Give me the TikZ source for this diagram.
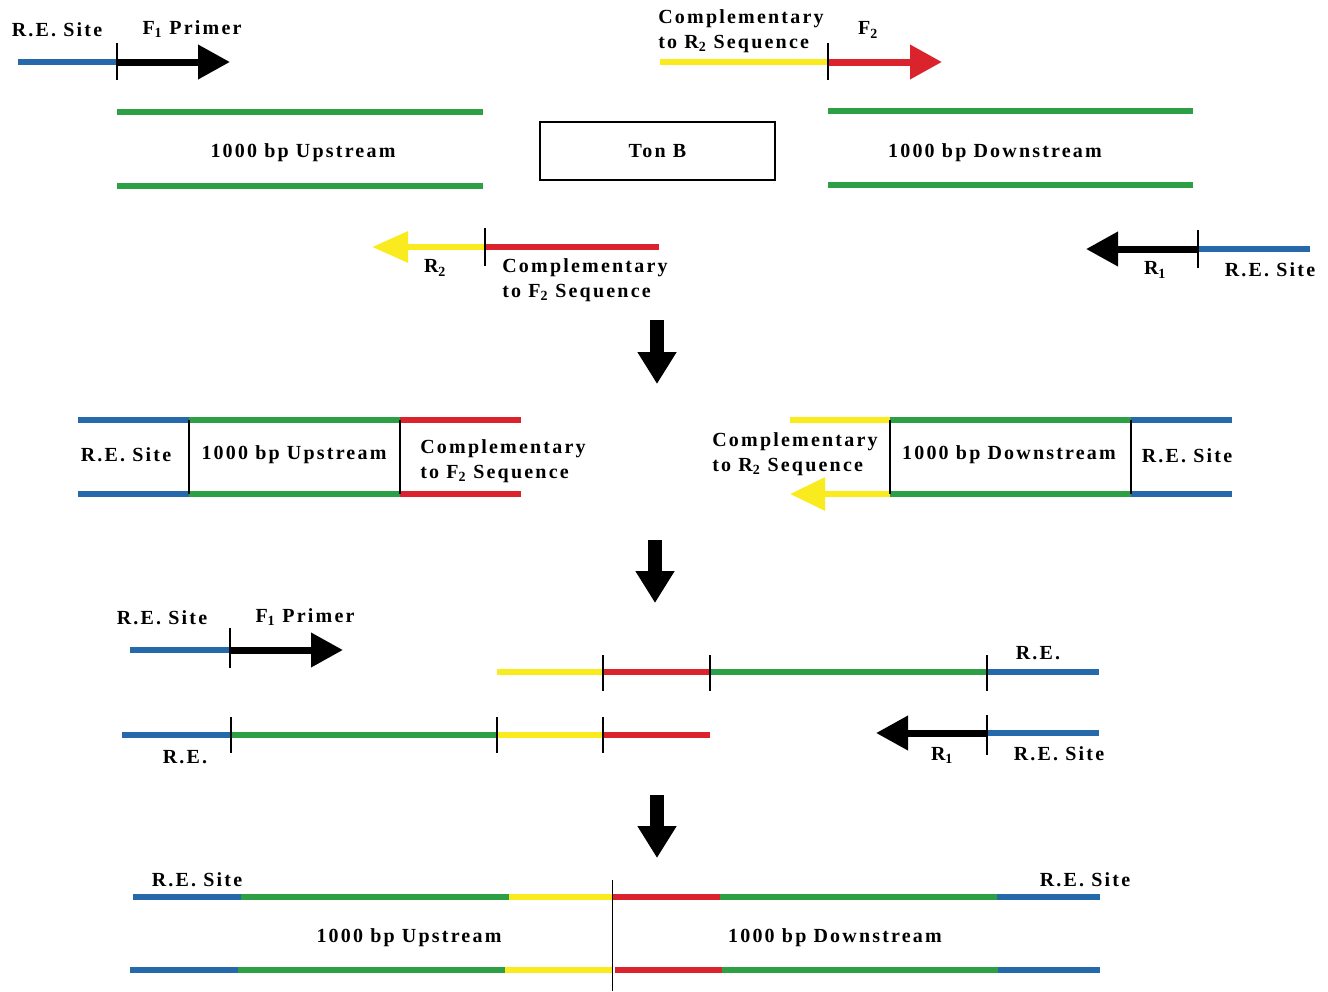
\documentclass[tikz,border=0pt]{standalone}
\usepackage{fontspec}
\usepackage{tikz}
\usetikzlibrary{arrows.meta}
\newfontfamily\lblfont{Liberation Serif}[LetterSpace=11]
\definecolor{reblue}{RGB}{38,105,170}
\definecolor{dnagreen}{RGB}{45,160,70}
\definecolor{dnared}{RGB}{218,35,45}
\definecolor{dnayellow}{RGB}{250,235,30}

\begin{document}
\begin{tikzpicture}[x=1pt,y=-1pt,
	dna/.style={line width=6pt},
	tick/.style={line width=1.4pt,black},
	lbl/.style={font=\lblfont\bfseries\fontsize{20}{25}\selectfont,inner sep=0pt},
	twolbl/.style={lbl,align=left},
	primer/.style={line width=7pt,-{Triangle[length=32pt,width=33pt]}},
	downarrow/.style={line width=14pt,-{Triangle[length=32pt,width=37pt]}}]
		\useasboundingbox (0,0) rectangle (1328,991);
		% step 1: primers and template
		\draw[dna,reblue] (18,62) -- (117,62);
		\draw[primer] (117,62) -- (230,62);
		\draw[tick] (117,43) -- (117,80);
		\node[lbl] (site1) at (57,30) {R.E. Site};
		\node[lbl] (fone) at (192,29) {F\textsubscript{1} Primer};
		\draw[dna,dnayellow] (660,62) -- (828,62);
		\draw[primer,dnared] (828,62) -- (942,62);
		\draw[tick] (828,43) -- (828,80);
		\node[twolbl] (comprtwo) at (741,31) {Complementary\\to R\textsubscript{2} Sequence};
		\node[lbl] (ftwo) at (868,30) {F\textsubscript{2}};
		\foreach \y in {112,186} {
			\draw[dna,dnagreen] (117,\y) -- (483,\y);
			\draw[dna,dnagreen] (828,\y-1) -- (1193,\y-1);
		}
		\node[lbl] (up) at (303,153) {1000 bp Upstream};
		\node[lbl] (down) at (995,153) {1000 bp Downstream};
		\node[lbl,draw,line width=2.8pt,minimum width=235pt,minimum height=58pt] (tonb) at (657.5,151) {Ton B};
		\draw[dna,dnared] (485,247) -- (659,247);
		\draw[dna,dnayellow,-{Triangle[length=36pt,width=30pt]}] (485,247) -- (372,247);
		\draw[tick] (485,228) -- (485,266);
		\node[lbl] (rtwo) at (435,268) {R\textsubscript{2}};
		\node[twolbl] (compftwo) at (585,280) {Complementary\\to F\textsubscript{2} Sequence};
		\draw[dna,reblue] (1198,249) -- (1310,249);
		\draw[primer] (1198,249) -- (1086,249);
		\draw[tick] (1198,230) -- (1198,268);
		\node[lbl] (rone) at (1155,270) {R\textsubscript{1}};
		\node[lbl] (site2) at (1270,270) {R.E. Site};
		\draw[downarrow] (657,320) -- (657,384);
		% step 2: two PCR products
		\foreach \y in {420,494} {
			\draw[dna,reblue] (78,\y) -- (189,\y);
			\draw[dna,dnagreen] (189,\y) -- (400,\y);
			\draw[dna,dnared] (400,\y) -- (521,\y);
			\draw[dna,dnagreen] (890,\y) -- (1131,\y);
			\draw[dna,reblue] (1131,\y) -- (1232,\y);
		}
		\draw[dna,dnayellow] (790,420) -- (890,420);
		\draw[dna,dnayellow,-{Triangle[length=35pt,width=32pt]}] (890,494) -- (790,494);
		\foreach \x in {189,400,890,1131}
			\draw[tick] (\x,420) -- (\x,494);
		\node[lbl] (site3) at (126,455) {R.E. Site};
		\node[lbl] (up2) at (294,455) {1000 bp Upstream};
		\node[twolbl] (compftwo2) at (503,461) {Complementary\\to F\textsubscript{2} Sequence};
		\node[twolbl] (comprtwo2) at (795,454) {Complementary\\to R\textsubscript{2} Sequence};
		\node[lbl] (down2) at (1009,455) {1000 bp Downstream};
		\node[lbl] (site4) at (1187,456) {R.E. Site};
		\draw[downarrow] (655,540) -- (655,603);
		% step 3: fusion PCR
		\draw[dna,reblue] (130,650) -- (230,650);
		\draw[primer] (230,650) -- (343,650);
		\draw[tick] (230,628) -- (230,668);
		\node[lbl] (site5) at (162,618) {R.E. Site};
		\node[lbl] (fone2) at (305,617) {F\textsubscript{1} Primer};
		\foreach \c/\a/\b in {dnayellow/497/603, dnared/603/710, dnagreen/710/987, reblue/987/1099}
			\draw[dna,\c] (\a,672) -- (\b,672);
		\foreach \x in {603,710,987}
			\draw[tick] (\x,655) -- (\x,691);
		\node[lbl] (re1) at (1038,653) {R.E.};
		\foreach \c/\a/\b in {reblue/122/231, dnagreen/231/497, dnayellow/497/603, dnared/603/710}
			\draw[dna,\c] (\a,735) -- (\b,735);
		\foreach \x in {231,497,603}
			\draw[tick] (\x,717) -- (\x,753);
		\node[lbl] (re2) at (185,757) {R.E.};
		\draw[dna,reblue] (987,733) -- (1099,733);
		\draw[primer] (987,733) -- (876,733);
		\draw[tick] (987,715) -- (987,755);
		\node[lbl] (rone2) at (942,755) {R\textsubscript{1}};
		\node[lbl] (site6) at (1059,754) {R.E. Site};
		\draw[downarrow] (657,795) -- (657,858);
		% step 4: fused product
		\foreach \c/\a/\b in {reblue/133/241, dnagreen/241/509, dnayellow/509/612, dnared/612/720, dnagreen/720/997, reblue/997/1100}
			\draw[dna,\c] (\a,897) -- (\b,897);
		\foreach \c/\a/\b in {reblue/130/238, dnagreen/238/505, dnayellow/505/612, dnared/615/722, dnagreen/722/998, reblue/998/1100}
			\draw[dna,\c] (\a,970) -- (\b,970);
		\draw[tick,line width=1pt] (612,880) -- (612,991);
		\node[lbl] (site7) at (197,880) {R.E. Site};
		\node[lbl] (site8) at (1085,880) {R.E. Site};
		\node[lbl] (up3) at (409,938) {1000 bp Upstream};
		\node[lbl] (down3) at (835,938) {1000 bp Downstream};
\end{tikzpicture}
\end{document}
